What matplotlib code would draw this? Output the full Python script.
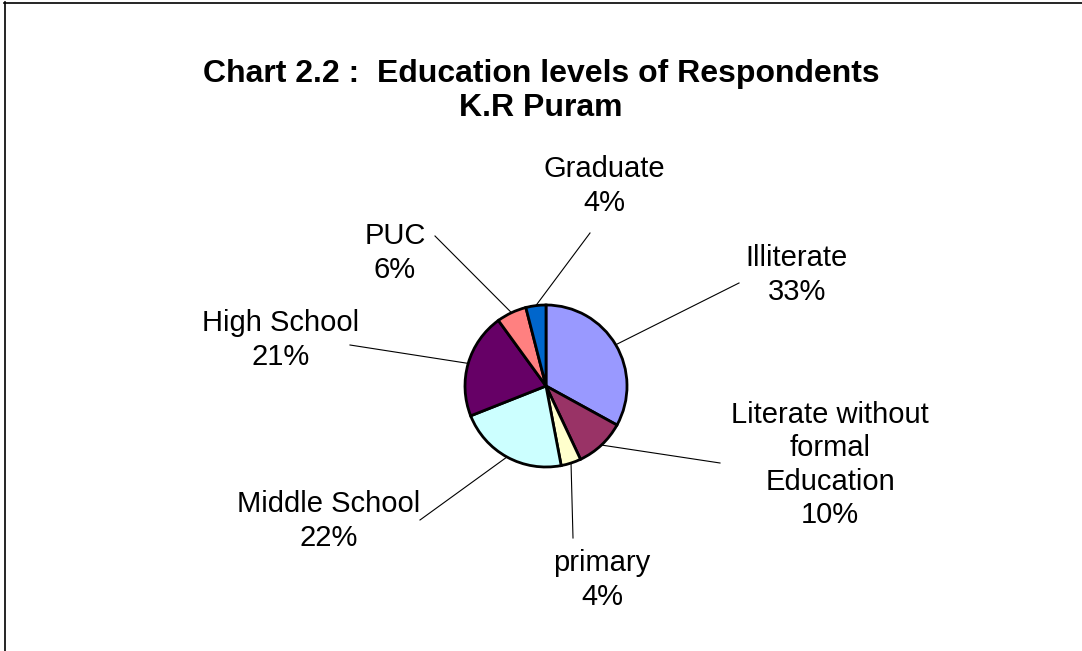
import numpy as np
import matplotlib.pyplot as plt
from matplotlib.lines import Line2D

plt.rcParams['font.family'] = ['Liberation Sans', 'DejaVu Sans']

categories = ['Illiterate', 'Literate without\nformal\nEducation', 'primary',
              'Middle School', 'High School', 'PUC', 'Graduate']
values = [33, 10, 4, 22, 21, 6, 4]
colors = ['#9999FF', '#993366', '#FFFFCC', '#CCFFFF', '#660066', '#FF8080', '#0066CC']

# label text centres and leader-line starts, in pixels from top-left
label_xy = [(797, 275), (830, 465), (602, 580), (329, 521), (281, 340), (395, 253), (604, 186)]
line_start = [(739, 283), (720, 463), (573, 538), (420, 520), (350, 345), (435, 236), (590, 233)]

W, H = 1082, 651
cx, cy, r = 546, 386, 81

fig = plt.figure(figsize=(W / 100, H / 100), dpi=100)
ax = fig.add_axes([0, 0, 1, 1])

wedges, _ = ax.pie(values, colors=colors, startangle=90, counterclock=False,
                   center=(cx, H - cy), radius=r, frame=True,
                   wedgeprops=dict(edgecolor='black', linewidth=2.0))
ax.set_xlim(0, W)
ax.set_ylim(0, H)
ax.set_aspect('equal')
ax.axis('off')

for w, cat, v, (lx, ly), (sx, sy) in zip(wedges, categories, values, label_xy, line_start):
    mid = np.deg2rad((w.theta1 + w.theta2) / 2)
    ex = cx + r * np.cos(mid)
    ey = (H - cy) + r * np.sin(mid)
    ax.plot([sx, ex], [H - sy, ey], color='black', lw=0.8, zorder=0)
    ax.text(lx, H - ly, f'{cat}\n{v}%', ha='center', va='center',
            fontsize=21, linespacing=1.25)

fig.text(541 / W, 1 - 91 / H, 'Chart 2.2 :  Education levels of Respondents\nK.R Puram',
         ha='center', va='center', fontsize=23, fontweight='bold', linespacing=1.15)

# chart border (left and top visible)
fig.add_artist(Line2D([4.5 / W, 4.5 / W], [0, 1 - 2 / H], transform=fig.transFigure, color='black', lw=1.2))
fig.add_artist(Line2D([4 / W, 1], [1 - 2.5 / H, 1 - 2.5 / H], transform=fig.transFigure, color='black', lw=1.2))

fig.savefig('out.png', dpi=100)
